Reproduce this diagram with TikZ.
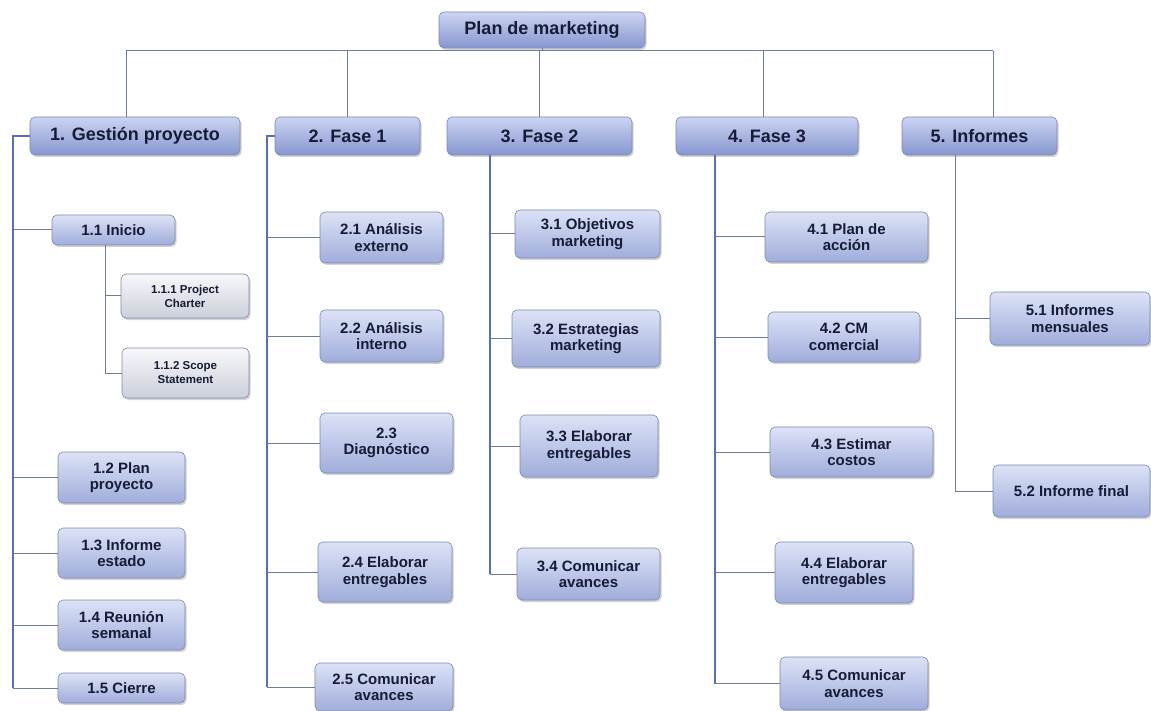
\documentclass[tikz,border=0pt]{standalone}
\usepackage{fontspec}
\setmainfont{Liberation Sans}
\usetikzlibrary{shadows}

\definecolor{ink}{HTML}{161B36}
\definecolor{edge}{HTML}{7C88B0}
\definecolor{phtop}{HTML}{CCD4F2}
\definecolor{phbot}{HTML}{8696CF}
\definecolor{tktop}{HTML}{DCE2F6}
\definecolor{tkbot}{HTML}{A0ADDB}
\definecolor{sbtop}{HTML}{F8F8FA}
\definecolor{sbbot}{HTML}{CCCFDA}
\definecolor{wire}{HTML}{6E7C9B}
\definecolor{trunk}{HTML}{5670B0}

\tikzset{
	wh/.style n args={2}{minimum width=#1pt, minimum height=#2pt},
	boxbase/.style={rectangle, rounded corners=5pt, draw=edge, line width=0.6pt,
		align=center, inner sep=0pt, text=ink,
		drop shadow={shadow xshift=1.5pt, shadow yshift=-2pt, opacity=0.35}},
	rootbox/.style={boxbase, top color=phtop, bottom color=phbot,
		font=\bfseries\fontsize{18}{21}\selectfont},
	phasebox/.style={boxbase, top color=phtop, bottom color=phbot,
		font=\bfseries\fontsize{18}{21}\selectfont},
	taskbox/.style={boxbase, top color=tktop, bottom color=tkbot,
		font=\bfseries\fontsize{15}{16.5}\selectfont},
	subbox/.style={boxbase, top color=sbtop, bottom color=sbbot,
		font=\bfseries\fontsize{11.5}{14}\selectfont},
	link/.style={draw=wire, line width=1pt},
	spine/.style={draw=trunk, line width=2.2pt}
}

\begin{document}
\begin{tikzpicture}[x=1pt, y=-1pt]
	
	\useasboundingbox (0, 0) rectangle (1151, 711);
	
	\node[rootbox, wh={206}{36}] at (542, 30) (root) {Plan de marketing};
	
	\node[phasebox, wh={210}{38}] at (135, 136) (g1) {1. Gestión proyecto};
	\node[phasebox, wh={145}{38}] at (347.5, 136) (g2) {2. Fase 1};
	\node[phasebox, wh={185}{38}] at (539.5, 136) (g3) {3. Fase 2};
	\node[phasebox, wh={182}{38}] at (767, 136) (g4) {4. Fase 3};
	\node[phasebox, wh={155}{38}] at (979.5, 136) (g5) {5. Informes};
	
	\node[taskbox, wh={123}{30}] at (113.5, 230) (c11) {1.1 Inicio};
	\node[subbox, wh={128}{44}] at (185, 296) (c111) {1.1.1 Project\\Charter};
	\node[subbox, wh={127}{50}] at (185.5, 373) (c112) {1.1.2 Scope\\Statement};
	\node[taskbox, wh={127}{51}] at (121.5, 477.5) (c12) {1.2 Plan\\proyecto};
	\node[taskbox, wh={127}{50}] at (121.5, 553) (c13) {1.3 Informe\\estado};
	\node[taskbox, wh={127}{50}] at (121.5, 625) (c14) {1.4 Reunión\\semanal};
	\node[taskbox, wh={127}{30}] at (121.5, 688) (c15) {1.5 Cierre};
	
	\node[taskbox, wh={123}{51}] at (381.5, 237.5) (c21) {2.1 Análisis\\externo};
	\node[taskbox, wh={123}{52}] at (381.5, 336) (c22) {2.2 Análisis\\interno};
	\node[taskbox, wh={133}{60}] at (386.5, 443) (c23) {2.3\\Diagnóstico};
	\node[taskbox, wh={134}{60}] at (385, 572) (c24) {2.4 Elaborar\\entregables};
	\node[taskbox, wh={138}{48}] at (384, 687) (c25) {2.5 Comunicar\\avances};
	
	\node[taskbox, wh={145}{48}] at (587.5, 234) (c31) {3.1 Objetivos\\marketing};
	\node[taskbox, wh={148}{57}] at (586, 338.5) (c32) {3.2 Estrategias\\marketing};
	\node[taskbox, wh={138}{62}] at (589, 446) (c33) {3.3 Elaborar\\entregables};
	\node[taskbox, wh={143}{52}] at (588.5, 574) (c34) {3.4 Comunicar\\avances};
	
	\node[taskbox, wh={163}{50}] at (846.5, 237) (c41) {4.1 Plan de\\acción};
	\node[taskbox, wh={152}{50}] at (844, 337) (c42) {4.2 CM\\comercial};
	\node[taskbox, wh={163}{50}] at (851.5, 452) (c43) {4.3 Estimar\\costos};
	\node[taskbox, wh={138}{61}] at (844, 572.5) (c44) {4.4 Elaborar\\entregables};
	\node[taskbox, wh={148}{53}] at (854, 683.5) (c45) {4.5 Comunicar\\avances};
	
	\node[taskbox, wh={160}{53}] at (1070, 318.5) (c51) {5.1 Informes\\mensuales};
	\node[taskbox, wh={157}{52}] at (1071.5, 491) (c52) {5.2 Informe final};
	
	% bus under the root
	\coordinate (b1) at (126, 51);
	\coordinate (b2) at (347, 51);
	\coordinate (b3) at (539, 51);
	\coordinate (b4) at (763, 51);
	\coordinate (b5) at (993, 51);
	
	\draw[link] (b1) -- (b5);
	\draw[link] (root.south) -- (root.south |- b1);
	\draw[link] (b1) -- (b1 |- g1.north);
	\draw[link] (b2) -- (b2 |- g2.north);
	\draw[link] (b3) -- (b3 |- g3.north);
	\draw[link] (b4) -- (b4 |- g4.north);
	\draw[link] (b5) -- (b5 |- g5.north);
	
	% column spines
	\coordinate (s1) at (13, 0);
	\coordinate (s11) at (105, 0);
	\coordinate (s2) at (267, 0);
	\coordinate (s3) at (490, 0);
	\coordinate (s4) at (715, 0);
	\coordinate (s5) at (955, 0);
	
	\draw[spine] (g1.west) -- (g1.west -| s1) -- (c15.west -| s1);
	\draw[link] (c11.west -| s1) -- (c11.west);
	\draw[link] (c12.west -| s1) -- (c12.west);
	\draw[link] (c13.west -| s1) -- (c13.west);
	\draw[link] (c14.west -| s1) -- (c14.west);
	\draw[link] (c15.west -| s1) -- (c15.west);
	
	\draw[link] (c11.south -| s11) -- (c112.west -| s11);
	\draw[link] (c111.west -| s11) -- (c111.west);
	\draw[link] (c112.west -| s11) -- (c112.west);
	
	\draw[spine] (g2.west) -- (g2.west -| s2) -- (c25.west -| s2);
	\draw[link] (c21.west -| s2) -- (c21.west);
	\draw[link] (c22.west -| s2) -- (c22.west);
	\draw[link] (c23.west -| s2) -- (c23.west);
	\draw[link] (c24.west -| s2) -- (c24.west);
	\draw[link] (c25.west -| s2) -- (c25.west);
	
	\draw[spine] (g3.south -| s3) -- (c34.west -| s3);
	\draw[link] (c31.west -| s3) -- (c31.west);
	\draw[link] (c32.west -| s3) -- (c32.west);
	\draw[link] (c33.west -| s3) -- (c33.west);
	\draw[link] (c34.west -| s3) -- (c34.west);
	
	\draw[spine] (g4.south -| s4) -- (c45.west -| s4);
	\draw[link] (c41.west -| s4) -- (c41.west);
	\draw[link] (c42.west -| s4) -- (c42.west);
	\draw[link] (c43.west -| s4) -- (c43.west);
	\draw[link] (c44.west -| s4) -- (c44.west);
	\draw[link] (c45.west -| s4) -- (c45.west);
	
	\draw[link] (g5.south -| s5) -- (c52.west -| s5);
	\draw[link] (c51.west -| s5) -- (c51.west);
	\draw[link] (c52.west -| s5) -- (c52.west);
	
\end{tikzpicture}
\end{document}
